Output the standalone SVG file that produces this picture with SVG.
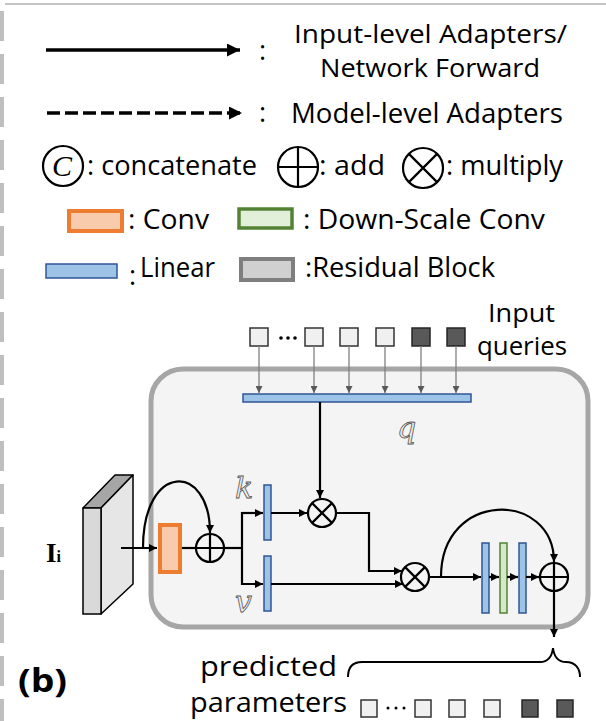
<svg xmlns="http://www.w3.org/2000/svg" width="606" height="721" viewBox="0 0 606 721">
<defs>
<marker id="ah" viewBox="0 0 10 10" refX="10" refY="5" markerWidth="9" markerHeight="8" markerUnits="userSpaceOnUse" orient="auto"><path d="M0,0 L10,5 L0,10 z" fill="#000"/></marker>
<marker id="ahL" viewBox="0 0 10 10" refX="10" refY="5" markerWidth="15" markerHeight="13" markerUnits="userSpaceOnUse" orient="auto"><path d="M0,0 L10,5 L0,10 z" fill="#000"/></marker>
<marker id="ahG" viewBox="0 0 10 10" refX="10" refY="5" markerWidth="7" markerHeight="7" markerUnits="userSpaceOnUse" orient="auto"><path d="M0,0 L10,5 L0,10 z" fill="#595959"/></marker>
</defs>
<style>
.t{font-family:"Open Sans","Noto Sans","Liberation Sans",sans-serif;fill:#000}
.lg{font-size:27px}
.lg2{font-size:25px}
.bar{fill:#9DC3E6;stroke:#2F5597;stroke-width:1.5}
.grn{fill:#D5E8C9;stroke:#548235;stroke-width:1.5}
.conn{fill:none;stroke:#000;stroke-width:2.2}
.qa{fill:none;stroke:#808080;stroke-width:1.3}
.sqL{fill:#F0F0F0;stroke:#333;stroke-width:1.5}
.sqD{fill:#595959;stroke:#262626;stroke-width:1.5}
.op{fill:none;stroke:#000;stroke-width:2.2}
.lbl{font-family:"DejaVu Serif","Liberation Serif",serif;font-style:italic;font-size:30px;fill:#eeeeee;stroke:#555;stroke-width:0.8}
</style>

<!-- frame -->
<line x1="5" y1="4" x2="606" y2="4" stroke="#c4c4c4" stroke-width="2"/>
<line x1="2" y1="0" x2="2" y2="721" stroke="#bfbfbf" stroke-width="4" stroke-dasharray="30 13" stroke-dashoffset="-11"/>

<!-- legend -->
<g id="legend">
<line x1="46" y1="50" x2="240" y2="50" stroke="#000" stroke-width="3.5" marker-end="url(#ahL)"/>
<text class="t lg" x="259" y="60">:</text>
<text class="t lg2" x="294" y="43" textLength="273" lengthAdjust="spacingAndGlyphs">Input-level Adapters/</text>
<text class="t lg2" x="320" y="77" textLength="220" lengthAdjust="spacingAndGlyphs">Network Forward</text>
<line x1="47" y1="113" x2="242" y2="113" stroke="#000" stroke-width="3.5" stroke-dasharray="13 5" marker-end="url(#ahL)"/>
<text class="t lg" x="259" y="122">:</text>
<text class="t lg" x="291" y="123" textLength="272" lengthAdjust="spacingAndGlyphs">Model-level Adapters</text>
<circle cx="63" cy="166" r="20" fill="#fff" stroke="#000" stroke-width="2.2"/>
<text x="62" y="176" text-anchor="middle" font-family="Liberation Serif,serif" font-style="italic" font-size="30">C</text>
<text class="t lg" x="87" y="175" textLength="170" lengthAdjust="spacingAndGlyphs">: concatenate</text>
<circle cx="298" cy="167" r="20" fill="#fff" stroke="#000" stroke-width="2.2"/>
<path d="M278,167 H318 M298,147 V187" stroke="#000" stroke-width="2.2"/>
<text class="t lg" x="319" y="175" textLength="66" lengthAdjust="spacingAndGlyphs">: add</text>
<circle cx="423" cy="168" r="20" fill="#fff" stroke="#000" stroke-width="2.2"/>
<path d="M408.9,153.9 L437.1,182.1 M437.1,153.9 L408.9,182.1" stroke="#000" stroke-width="2.2"/>
<text class="t lg" x="446" y="175" textLength="117" lengthAdjust="spacingAndGlyphs">: multiply</text>
<rect x="69" y="211" width="53" height="20" fill="#F8CBAD" stroke="#ED7D31" stroke-width="4"/>
<text class="t lg" x="128" y="229" textLength="81" lengthAdjust="spacingAndGlyphs">: Conv</text>
<rect x="239" y="209" width="53" height="19" fill="#E2F0D9" stroke="#548235" stroke-width="3.5"/>
<text class="t lg" x="303" y="229" textLength="242" lengthAdjust="spacingAndGlyphs">: Down-Scale Conv</text>
<rect x="46" y="264" width="71" height="14" class="bar"/>
<text class="t lg" x="129" y="285">:</text>
<text class="t lg" x="140" y="277" textLength="75" lengthAdjust="spacingAndGlyphs">Linear</text>
<rect x="241" y="259" width="52" height="21" fill="#D0D0D0" stroke="#7F7F7F" stroke-width="4"/>
<text class="t lg" x="305" y="277" textLength="190" lengthAdjust="spacingAndGlyphs">:Residual Block</text>
</g>

<!-- main block -->
<g id="adapter-block">
<rect x="151" y="369" width="437" height="258" rx="32" ry="32" fill="#F4F4F4" stroke="#A6A6A6" stroke-width="5"/>
</g>

<g id="input-image">
<path d="M83,508 L101,508 L133,475 L115,475 Z" fill="#A6A6A6" stroke="#000" stroke-width="1.5" stroke-linejoin="round"/>
<path d="M101,508 L133,475 L133,584 L101,614 Z" fill="#E6E6E6" stroke="#000" stroke-width="1.5" stroke-linejoin="round"/>
<rect x="83" y="508" width="18" height="106" fill="#D9D9D9" stroke="#000" stroke-width="1.5"/>
<text x="46" y="562" font-family="Liberation Serif,serif" font-weight="bold" font-size="27">I<tspan font-size="16">i</tspan></text>
</g>

<g id="input-queries">
<rect x="250" y="328" width="18" height="18" class="sqL"/>
<circle cx="281" cy="338" r="1.8"/><circle cx="288" cy="338" r="1.8"/><circle cx="295" cy="338" r="1.8"/>
<rect x="305" y="328" width="18" height="18" class="sqL"/>
<rect x="340" y="328" width="18" height="18" class="sqL"/>
<rect x="376" y="328" width="18" height="18" class="sqL"/>
<rect x="412" y="328" width="18" height="18" class="sqD"/>
<rect x="447" y="328" width="18" height="18" class="sqD"/>
<text class="t" font-size="26" x="488" y="322" textLength="67" lengthAdjust="spacingAndGlyphs">Input</text>
<text class="t" font-size="26" x="477" y="355" textLength="90" lengthAdjust="spacingAndGlyphs">queries</text>
</g>

<g id="q-linear"><rect x="243" y="394" width="228" height="8" class="bar"/>
<text class="lbl" x="397" y="438">q</text></g>
<g id="conv"><rect x="160" y="525" width="20" height="47" fill="#F8CBAD" stroke="#ED7D31" stroke-width="4"/></g>
<g id="add1"><circle cx="210" cy="548" r="14" fill="none" stroke="#000" stroke-width="2.2"/><path d="M196,548 H224 M210,534 V562" class="op"/></g>
<g id="k-linear"><rect x="264" y="485" width="7" height="55" class="bar"/><text class="lbl" x="235" y="498">k</text></g>
<g id="v-linear"><rect x="264" y="556" width="7" height="55" class="bar"/><text class="lbl" x="235" y="612">v</text></g>
<g id="mul1"><circle cx="322" cy="513" r="14" fill="none" stroke="#000" stroke-width="2.2"/><path d="M312.1,503.1 L331.9,522.9 M331.9,503.1 L312.1,522.9" class="op"/></g>
<g id="mul2"><circle cx="415" cy="577" r="14" fill="none" stroke="#000" stroke-width="2.2"/><path d="M405.1,567.1 L424.9,586.9 M424.9,567.1 L405.1,586.9" class="op"/></g>
<g id="res-linear1"><rect x="482" y="543" width="7" height="70" class="bar"/></g>
<g id="res-downconv"><rect x="500" y="543" width="7" height="70" class="grn"/></g>
<g id="res-linear2"><rect x="519" y="543" width="7" height="70" class="bar"/></g>
<g id="add2"><circle cx="554" cy="577" r="14" fill="none" stroke="#000" stroke-width="2.2"/><path d="M540,577 H568 M554,563 V591" class="op"/></g>

<g id="predicted-parameters">
<text class="t" font-size="27" x="200" y="676" textLength="137" lengthAdjust="spacingAndGlyphs">predicted</text>
<text class="t" font-size="27" x="190" y="712" textLength="157" lengthAdjust="spacingAndGlyphs">parameters</text>
<path d="M348,677 C348,668 352,662 362,662 H540 C548,662 552,656 553,648 C554,656 558,662 566,662 C575,662 580,668 580,677" fill="none" stroke="#000" stroke-width="2"/>
<rect x="361" y="700" width="16" height="17" class="sqL"/>
<circle cx="388" cy="708" r="1.5"/><circle cx="396" cy="708" r="1.5"/><circle cx="404" cy="708" r="1.5"/>
<rect x="415" y="700" width="16" height="17" class="sqL"/>
<rect x="449" y="700" width="16" height="17" class="sqL"/>
<rect x="484" y="700" width="16" height="17" class="sqL"/>
<rect x="522" y="700" width="16" height="17" class="sqD"/>
<rect x="557" y="700" width="16" height="17" class="sqD"/>
</g>

<g id="label-b"><text x="18" y="692" font-family="Open Sans,Liberation Sans,sans-serif" font-weight="bold" font-size="32" textLength="49" lengthAdjust="spacingAndGlyphs">(b)</text></g>

<g id="connectors">
<path class="qa" d="M259,346 V393" marker-end="url(#ahG)"/>
<path class="qa" d="M314,346 V393" marker-end="url(#ahG)"/>
<path class="qa" d="M349,346 V393" marker-end="url(#ahG)"/>
<path class="qa" d="M385,346 V393" marker-end="url(#ahG)"/>
<path class="qa" d="M421,346 V393" marker-end="url(#ahG)"/>
<path class="qa" d="M456,346 V393" marker-end="url(#ahG)"/>
<path class="conn" d="M121,548 H157" marker-end="url(#ah)"/>
<path class="conn" d="M143,548 C143,462 210,462 210,533" marker-end="url(#ah)"/>
<path class="conn" d="M182,548 H196"/>
<path class="conn" d="M224,548 H242"/>
<path class="conn" d="M263,513 H242 V584 H263" marker-end="url(#ah)"/>
<path class="conn" d="M242,513 H263" marker-end="url(#ah)"/>
<path class="conn" d="M271,513 H307" marker-end="url(#ah)"/>
<path class="conn" d="M320,402 V498" marker-end="url(#ah)"/>
<path class="conn" d="M336,513 H369 V571 H402" marker-end="url(#ah)"/>
<path class="conn" d="M271,584 H403" marker-end="url(#ah)"/>
<path class="conn" d="M429,577 H481" marker-end="url(#ah)"/>
<path class="conn" d="M441,577 C441,490 554,490 554,562" marker-end="url(#ah)"/>
<path class="conn" d="M489,577 H499" marker-end="url(#ah)"/>
<path class="conn" d="M507,577 H518" marker-end="url(#ah)"/>
<path class="conn" d="M526,577 H539" marker-end="url(#ah)"/>
<path class="conn" d="M554,591 V637" marker-end="url(#ah)"/>
</g>
</svg>
